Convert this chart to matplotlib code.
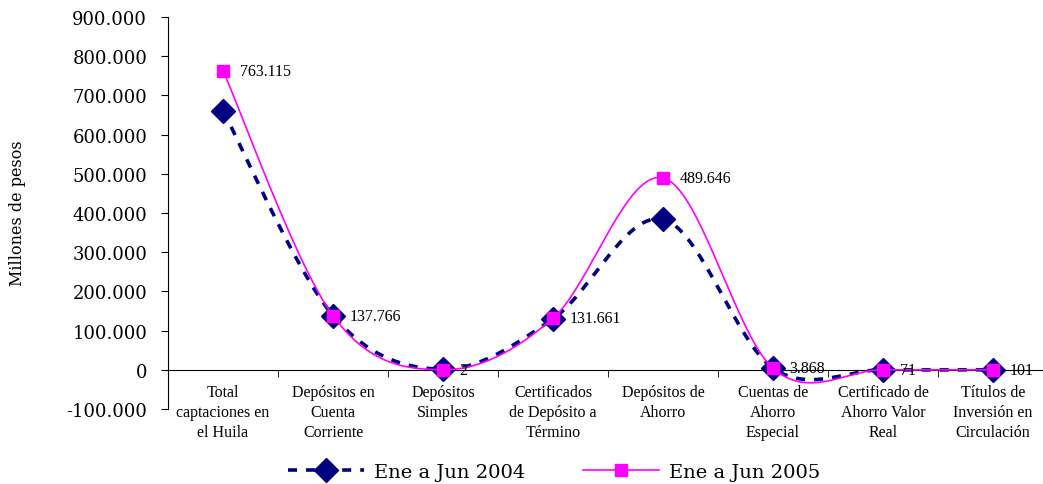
import numpy as np
import matplotlib.pyplot as plt
from matplotlib.lines import Line2D

categories = ['Total\ncaptaciones en\nel Huila', 'Depósitos en\nCuenta\nCorriente',
              'Depósitos\nSimples', 'Certificados\nde Depósito a\nTérmino',
              'Depósitos de\nAhorro', 'Cuentas de\nAhorro\nEspecial',
              'Certificado de\nAhorro Valor\nReal', 'Títulos de\nInversión en\nCirculación']
ene_jun_2004 = [661000, 138500, 1500, 130000, 384000, 4200, 100, 100]
ene_jun_2005 = [763115, 137766, 2, 131661, 489646, 3868, 71, 101]
labels_2005 = ['763.115', '137.766', '2', '131.661', '489.646', '3.868', '71', '101']

navy = '#000080'
pink = '#FF00FF'


def smooth(y, n=40):
    # excel-like smoothed line (bezier through the points)
    x = np.arange(len(y), dtype=float)
    y = np.asarray(y, dtype=float)
    xs, ys = [], []
    for i in range(len(y) - 1):
        p0 = max(i - 1, 0)
        p3 = min(i + 2, len(y) - 1)
        b1x = x[i] + (x[i + 1] - x[p0]) / 6
        b1y = y[i] + (y[i + 1] - y[p0]) / 6
        b2x = x[i + 1] - (x[p3] - x[i]) / 6
        b2y = y[i + 1] - (y[p3] - y[i]) / 6
        t = np.linspace(0, 1, n)
        xs.append((1-t)**3*x[i] + 3*(1-t)**2*t*b1x + 3*(1-t)*t**2*b2x + t**3*x[i+1])
        ys.append((1-t)**3*y[i] + 3*(1-t)**2*t*b1y + 3*(1-t)*t**2*b2y + t**3*y[i+1])
    return np.concatenate(xs), np.concatenate(ys)


fig = plt.figure(figsize=(10.43, 4.85), dpi=100)
ax = fig.add_axes([168/1043, 75/485, 880/1043, 392/485])

idx = np.arange(len(categories))
sx, sy = smooth(ene_jun_2004)
ax.plot(sx, sy, color=navy, lw=2.6, dashes=(2.5, 2.5), zorder=2)
ax.plot(idx, ene_jun_2004, ls='none', marker='D', ms=12.5, color=navy, zorder=3)
sx, sy = smooth(ene_jun_2005)
ax.plot(sx, sy, color=pink, lw=1.2, zorder=4)
ax.plot(idx, ene_jun_2005, ls='none', marker='s', ms=8, color=pink, zorder=5)

for i, v in enumerate(ene_jun_2005):
    ax.annotate(labels_2005[i], (i, v), xytext=(12, 0), textcoords='offset points',
                va='center', ha='left', fontsize=11.5, family='Liberation Serif', zorder=6)

ax.set_xlim(-0.5, 7.5)
ax.set_ylim(-100000, 900000)
ax.set_yticks(np.arange(-100000, 900001, 100000))
ax.set_yticklabels([f'{int(v):,}'.replace(',', '.') for v in ax.get_yticks()],
                   family='DejaVu Serif', fontsize=13)
ax.tick_params(axis='y', direction='out', length=5, pad=10)

ax.spines['top'].set_visible(False)
ax.spines['right'].set_visible(False)
ax.spines['bottom'].set_position(('data', 0))
ax.set_xticks(idx)
ax.set_xticklabels(categories, family='Liberation Serif', fontsize=11.5, linespacing=1.35)
ax.set_xticks(idx[:-1] + 0.5, minor=True)
ax.tick_params(axis='x', which='major', length=0, pad=10)
ax.tick_params(axis='x', which='minor', direction='out', length=5)

fig.text(18/1043, 1 - 213/485, 'Millones de pesos', rotation=90, va='center', ha='center',
         family='DejaVu Serif', fontsize=11.5)

handles = [Line2D([], [], color=navy, lw=2.6, dashes=(2.5, 2.5), marker='D', ms=12.5),
           Line2D([], [], color=pink, lw=1.2, marker='s', ms=8)]
fig.legend(handles, ['Ene a Jun 2004', 'Ene a Jun 2005'], loc='center',
           bbox_to_anchor=(554/1043, 12/485), ncol=2, frameon=False,
           prop={'family': 'DejaVu Serif', 'size': 14}, handlelength=3.9,
           handletextpad=0.5, columnspacing=3)

fig.savefig('out.png', dpi=100)
